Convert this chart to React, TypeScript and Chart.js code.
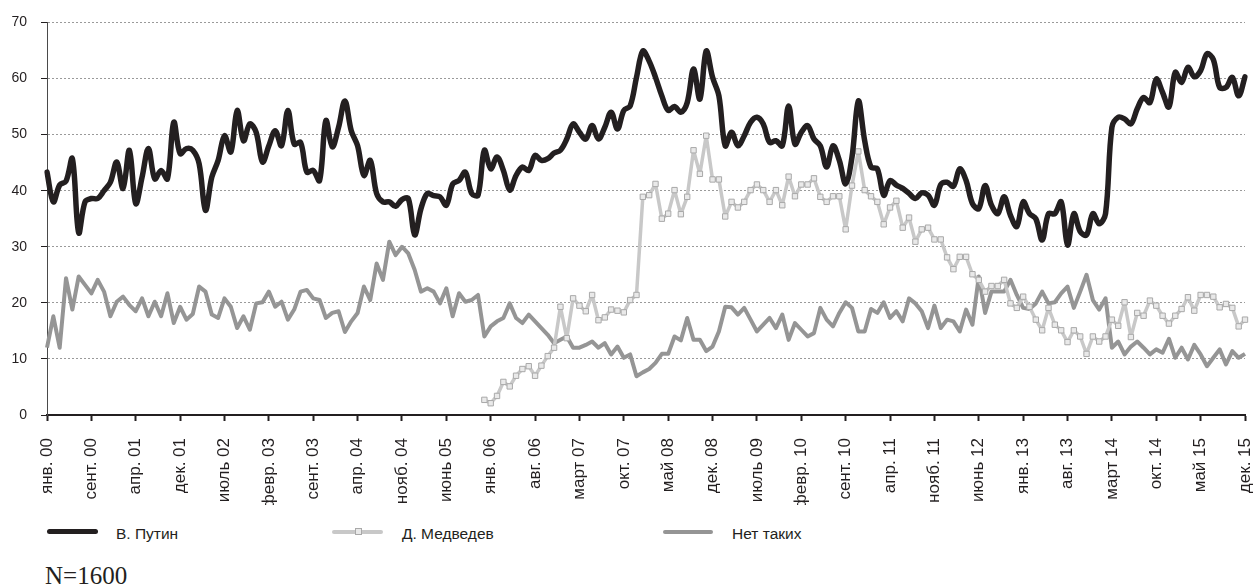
import React, { useEffect, useRef } from 'react';
import { Chart, registerables } from 'chart.js';

Chart.register(...registerables);

const tickLabels = [
  'янв. 00', 'сент. 00', 'апр. 01', 'дек. 01', 'июль 02', 'февр. 03', 'сент. 03',
  'апр. 04', 'нояб. 04', 'июнь 05', 'янв. 06', 'авг. 06', 'март 07', 'окт. 07',
  'май 08', 'дек. 08', 'июль 09', 'февр. 10', 'сент. 10', 'апр. 11', 'нояб. 11',
  'июнь 12', 'янв. 13', 'авг. 13', 'март 14', 'окт. 14', 'май 15', 'дек. 15',
];

const putin = [
  43.3, 38.0, 41.0, 41.7, 45.7, 32.5, 38.0, 38.6, 38.6, 40.0,
  41.5, 45.1, 40.4, 47.2, 37.7, 42.4, 47.5, 42.1, 43.6, 42.1,
  52.2, 46.6, 47.5, 47.2, 44.8, 36.5, 42.4, 45.4, 49.8, 46.9,
  54.3, 48.9, 51.9, 50.4, 45.1, 48.0, 50.7, 48.0, 54.3, 48.3,
  48.6, 43.3, 43.6, 41.8, 52.5, 47.8, 51.3, 56.0, 50.7, 48.0,
  42.7, 45.4, 39.5, 38.0, 38.0, 37.2, 38.4, 38.6, 32.1, 36.8,
  39.5, 39.1, 38.9, 37.4, 41.2, 41.8, 43.3, 39.5, 39.2, 47.2,
  43.9, 46.0, 43.6, 40.1, 42.7, 44.2, 43.6, 46.3, 45.4, 45.7,
  46.7, 47.2, 49.2, 51.9, 50.4, 49.2, 51.6, 49.2, 51.3, 54.0,
  51.0, 54.3, 55.1, 60.2, 64.9, 63.1, 60.2, 56.9, 54.3, 55.0,
  54.0, 55.7, 61.7, 56.3, 64.9, 60.2, 56.9, 48.0, 50.4, 48.0,
  49.8, 52.2, 53.1, 51.9, 48.6, 48.9, 48.0, 55.1, 48.3, 50.4,
  51.6, 49.2, 48.0, 44.2, 48.0, 45.4, 41.2, 46.0, 56.0, 48.9,
  44.2, 43.9, 39.2, 41.8, 41.0, 40.4, 39.5, 38.6, 39.6, 39.2,
  37.4, 41.1, 41.5, 40.8, 43.9, 41.8, 37.7, 36.8, 40.9, 37.4,
  35.9, 38.9, 35.6, 33.6, 38.0, 35.9, 35.0, 31.2, 35.9, 35.9,
  38.0, 30.3, 35.9, 32.7, 32.1, 35.9, 34.1, 35.9, 51.3, 53.1,
  52.8, 51.9, 54.6, 56.6, 55.7, 59.9, 57.5, 54.9, 61.1, 59.3,
  62.0, 60.3, 61.4, 64.4, 63.4, 58.4, 58.4, 60.2, 56.9, 60.3,
];

const medvedevStartIndex = 69;
const medvedevValues = [
  2.7, 2.1, 3.4, 5.9, 5.1, 7.0, 8.2, 8.7, 7.0, 8.8,
  10.5, 12.0, 19.3, 13.7, 20.8, 19.5, 18.5, 21.4, 16.9, 17.4,
  18.8, 18.6, 18.3, 20.5, 21.4, 38.9, 39.2, 41.2, 35.0, 35.9,
  40.1, 35.8, 38.9, 47.2, 43.0, 49.8, 42.0, 42.0, 35.4, 38.0,
  37.0, 38.0, 40.1, 41.1, 40.1, 38.0, 40.1, 37.4, 42.5, 39.0,
  41.1, 41.1, 42.2, 38.9, 38.0, 39.0, 39.0, 33.1, 40.9, 47.0,
  40.1, 39.0, 38.0, 34.0, 37.0, 38.2, 33.4, 35.2, 30.9, 33.1,
  33.4, 31.3, 31.3, 28.1, 26.0, 28.2, 28.2, 25.1, 24.1, 22.0,
  23.0, 23.0, 24.1, 19.9, 19.1, 21.1, 19.3, 17.0, 15.1, 19.1,
  16.1, 15.1, 13.0, 15.1, 14.0, 10.9, 14.0, 13.1, 14.0, 17.0,
  15.9, 20.1, 13.9, 18.2, 17.7, 20.4, 19.5, 17.7, 16.3, 17.7,
  18.9, 21.0, 18.6, 21.4, 21.4, 21.1, 19.2, 19.8, 19.1, 15.8,
  17.0,
];

const netTakih = [
  12.0, 17.6, 12.0, 24.4, 18.8, 24.7, 23.2, 21.7, 24.1, 22.0,
  17.6, 20.2, 21.1, 19.6, 18.5, 20.8, 17.6, 20.2, 17.6, 21.7,
  16.4, 19.3, 17.0, 18.0, 22.9, 22.0, 17.9, 17.3, 20.8, 19.3,
  15.5, 17.6, 15.2, 19.9, 20.1, 22.0, 19.3, 20.2, 17.0, 18.8,
  22.0, 22.3, 20.8, 20.5, 17.3, 18.2, 18.5, 14.8, 16.7, 18.2,
  22.9, 20.5, 27.0, 24.1, 30.9, 28.5, 30.0, 28.8, 25.9, 22.0,
  22.6, 22.0, 19.9, 22.6, 17.6, 21.7, 20.2, 20.5, 21.4, 14.0,
  15.8, 16.7, 17.3, 19.9, 17.3, 16.4, 17.9, 16.7, 15.5, 14.3,
  12.8, 13.4, 14.0, 12.0, 12.0, 12.5, 13.1, 12.0, 12.8, 10.8,
  12.2, 10.2, 10.8, 6.9, 7.6, 8.2, 9.3, 10.9, 10.9, 14.0,
  13.3, 17.3, 13.4, 13.4, 11.4, 12.2, 14.9, 19.3, 19.2, 17.9,
  19.1, 17.0, 14.9, 16.1, 17.3, 15.5, 17.9, 13.4, 16.4, 15.2,
  14.0, 14.6, 19.1, 17.0, 15.8, 18.2, 20.1, 19.1, 14.9, 14.9,
  18.9, 18.2, 20.1, 17.3, 18.5, 16.7, 20.8, 19.9, 18.5, 15.5,
  19.5, 15.5, 17.0, 16.7, 14.9, 18.8, 16.1, 24.7, 18.2, 22.0,
  22.0, 22.0, 24.1, 21.4, 19.1, 18.9, 19.9, 22.0, 19.9, 20.1,
  21.7, 22.9, 19.1, 22.0, 25.0, 20.5, 18.8, 20.8, 12.0, 13.1,
  10.8, 12.2, 13.1, 12.0, 10.8, 11.7, 11.1, 13.6, 10.2, 12.0,
  9.9, 12.5, 10.8, 8.7, 10.2, 11.7, 9.0, 11.4, 10.2, 10.9,
];

const seriesNames = ['В. Путин', 'Д. Медведев', 'Нет таких'];
const footnote = 'N=1600';

const LABEL_STEP = 7;
const TEXT = '#231f20';
const FONT = "'Liberation Sans', Arial, sans-serif";

const categories = putin.map((_, i) => (i % LABEL_STEP === 0 ? tickLabels[i / LABEL_STEP] : ''));
const medvedev: (number | null)[] = putin.map((_, i) =>
  i < medvedevStartIndex ? null : medvedevValues[i - medvedevStartIndex]
);

export default function App() {
  const canvasRef = useRef<HTMLCanvasElement | null>(null);

  useEffect(() => {
    if (!canvasRef.current) return;
    const chart = new Chart(canvasRef.current, {
      type: 'line',
      data: {
        labels: categories,
        datasets: [
          {
            label: seriesNames[0],
            data: putin,
            borderColor: TEXT,
            borderWidth: 5.5,
            tension: 0.35,
            pointRadius: 0,
            borderCapStyle: 'round',
            borderJoinStyle: 'round',
            order: 0,
          },
          {
            label: seriesNames[1],
            data: medvedev,
            borderColor: '#c8c8c8',
            borderWidth: 3.5,
            tension: 0,
            pointStyle: 'rect',
            pointRadius: 3.8,
            pointBackgroundColor: '#e9e9e9',
            pointBorderColor: '#a9a9a9',
            pointBorderWidth: 1,
            borderJoinStyle: 'round',
            order: 1,
          },
          {
            label: seriesNames[2],
            data: netTakih,
            borderColor: '#959595',
            borderWidth: 4,
            tension: 0,
            pointRadius: 0,
            borderJoinStyle: 'round',
            order: 2,
          },
        ],
      },
      options: {
        animation: false,
        responsive: false,
        layout: { padding: { top: 20, right: 13, left: 0, bottom: 0 } },
        plugins: { legend: { display: false }, tooltip: { enabled: false } },
        scales: {
          x: {
            type: 'category',
            offset: false,
            grid: {
              display: true,
              drawOnChartArea: false,
              drawTicks: true,
              tickLength: 6,
              tickWidth: 2,
              tickColor: (ctx: any) => (ctx.index % LABEL_STEP === 0 ? TEXT : 'rgba(0,0,0,0)'),
            },
            border: { display: true, color: TEXT, width: 2 },
            ticks: {
              autoSkip: false,
              maxRotation: 90,
              minRotation: 90,
              padding: 17,
              color: TEXT,
              font: { family: FONT, size: 17 },
              callback: (_v: any, i: number) => categories[i],
            },
            afterFit: (s: any) => {
              s.height = 90;
              s.paddingLeft = 0;
              s.paddingRight = 0;
            },
          },
          y: {
            min: 0,
            max: 70,
            ticks: {
              stepSize: 10,
              padding: 14,
              color: TEXT,
              font: { family: FONT, size: 14 },
            },
            grid: {
              color: '#9a9a9a',
              lineWidth: 1,
              tickLength: 6,
              tickColor: TEXT,
              tickWidth: 1,
            },
            border: { display: true, color: '#4a4a4a', width: 1, dash: [2, 2] },
            afterFit: (s: any) => {
              s.width = 47;
            },
          },
        },
      },
    } as any);
    return () => chart.destroy();
  }, []);

  const legendText: React.CSSProperties = {
    position: 'absolute',
    top: 525.6,
    fontFamily: FONT,
    fontSize: 15.5,
    lineHeight: '16px',
    color: TEXT,
    whiteSpace: 'nowrap',
  };

  return (
    <div style={{ position: 'absolute', left: 0, top: 0, width: 1258, height: 587, background: '#fff' }}>
      <canvas ref={canvasRef} width={1258} height={505} style={{ display: 'block', width: 1258, height: 505 }} />
      <div style={{ position: 'absolute', left: 47, top: 529.2, width: 51, height: 5, background: TEXT, borderRadius: 3 }} />
      <div style={{ ...legendText, left: 116 }}>{seriesNames[0]}</div>
      <div style={{ position: 'absolute', left: 332, top: 529.7, width: 51, height: 4, background: '#c8c8c8', borderRadius: 2 }} />
      <div
        style={{
          position: 'absolute',
          left: 355,
          top: 528.2,
          width: 5,
          height: 5,
          background: '#e9e9e9',
          border: '1px solid #a9a9a9',
        }}
      />
      <div style={{ ...legendText, left: 402 }}>{seriesNames[1]}</div>
      <div style={{ position: 'absolute', left: 663, top: 529.7, width: 50, height: 4, background: '#959595', borderRadius: 2 }} />
      <div style={{ ...legendText, left: 732 }}>{seriesNames[2]}</div>
      <div
        style={{
          position: 'absolute',
          left: 45,
          top: 563,
          fontFamily: "'Liberation Serif', 'Times New Roman', serif",
          fontSize: 25,
          lineHeight: '25px',
          color: TEXT,
          whiteSpace: 'nowrap',
        }}
      >
        {footnote}
      </div>
    </div>
  );
}
